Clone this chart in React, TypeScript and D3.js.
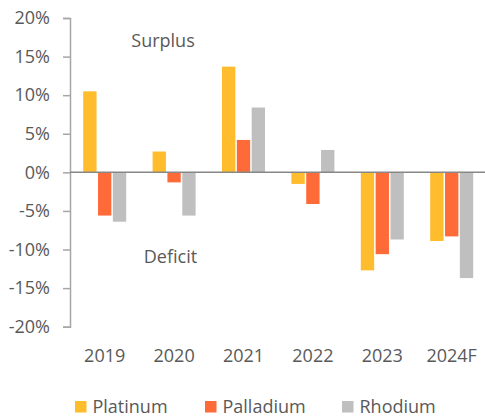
import React, { useEffect, useRef } from "react";
import * as d3 from "d3";

// chart data
const years = ["2019", "2020", "2021", "2022", "2023", "2024F"];
const platinum = [10.5, 2.7, 13.7, -1.5, -12.7, -8.9];
const palladium = [-5.6, -1.3, 4.2, -4.1, -10.6, -8.3];
const rhodium = [-6.4, -5.6, 8.4, 2.9, -8.7, -13.7];
const seriesNames = ["Platinum", "Palladium", "Rhodium"];
const seriesColors = ["#FFBC2D", "#FF6A39", "#BFBFBF"];
const yTicks = [20, 15, 10, 5, 0, -5, -10, -15, -20];

const App = () => {
  const ref = useRef<SVGSVGElement>(null);

  useEffect(() => {
    const svg = d3.select(ref.current);
    svg.selectAll("*").remove();

    const font = "'Open Sans', 'Noto Sans', sans-serif";
    const fontSize = "18px";
    const textColor = "#595959";
    const values = [platinum, palladium, rhodium];

    // scales
    const x = d3.scaleBand().domain(years).range([70, 486.4]);
    const y = d3.scaleLinear().domain([-20, 20]).range([326.7, 18]);
    const groupWidth = 43;
    const xSub = d3
      .scaleBand()
      .domain(seriesNames)
      .range([0, groupWidth])
      .paddingInner(0.1);

    // y axis
    const yAxis = svg
      .append("g")
      .attr("transform", "translate(70,0)")
      .call(
        d3
          .axisLeft(y)
          .tickValues(yTicks)
          .tickSize(7)
          .tickPadding(13)
          .tickFormat((d) => `${d}%`)
      );
    yAxis.select(".domain").attr("stroke", "#A6A6A6").attr("stroke-width", 1.5);
    yAxis.selectAll(".tick line").attr("stroke", "#A6A6A6").attr("stroke-width", 1.5);
    yAxis
      .selectAll(".tick text")
      .attr("fill", textColor)
      .style("font-family", font)
      .style("font-size", fontSize);

    // bars
    seriesNames.forEach((name, si) => {
      svg
        .append("g")
        .selectAll("rect")
        .data(values[si])
        .enter()
        .append("rect")
        .attr(
          "x",
          (d, i) =>
            (x(years[i]) as number) +
            (x.bandwidth() - groupWidth) / 2 +
            (xSub(name) as number)
        )
        .attr("y", (d) => y(Math.max(0, d)))
        .attr("width", xSub.bandwidth())
        .attr("height", (d) => Math.abs(y(d) - y(0)))
        .attr("fill", seriesColors[si]);
    });

    // zero line
    svg
      .append("line")
      .attr("x1", 70)
      .attr("x2", 485)
      .attr("y1", y(0))
      .attr("y2", y(0))
      .attr("stroke", "#878787")
      .attr("stroke-width", 1.5);

    // year labels
    svg
      .append("g")
      .selectAll("text")
      .data(years)
      .enter()
      .append("text")
      .attr("x", (d) => (x(d) as number) + x.bandwidth() / 2)
      .attr("y", 362)
      .attr("text-anchor", "middle")
      .attr("fill", textColor)
      .style("font-family", font)
      .style("font-size", fontSize)
      .text((d) => d);

    // annotations
    const notes = [
      { label: "Surplus", x: 163, y: 47 },
      { label: "Deficit", x: 170.5, y: 263 },
    ];
    svg
      .append("g")
      .selectAll("text")
      .data(notes)
      .enter()
      .append("text")
      .attr("x", (d) => d.x)
      .attr("y", (d) => d.y)
      .attr("text-anchor", "middle")
      .attr("fill", textColor)
      .style("font-family", font)
      .style("font-size", fontSize)
      .text((d) => d.label);

    // legend
    const legendX = [75, 205, 342];
    const legend = svg
      .append("g")
      .selectAll("g")
      .data(seriesNames)
      .enter()
      .append("g")
      .attr("transform", (d, i) => `translate(${legendX[i]},401)`);
    legend
      .append("rect")
      .attr("width", 11.5)
      .attr("height", 11.5)
      .attr("fill", (d, i) => seriesColors[i]);
    legend
      .append("text")
      .attr("x", 17.5)
      .attr("y", 11.5)
      .attr("fill", textColor)
      .style("font-family", font)
      .style("font-size", fontSize)
      .text((d) => d);
  }, []);

  return (
    <svg
      ref={ref}
      width={485}
      height={416}
      style={{ position: "absolute", left: 0, top: 0, background: "#fff" }}
    />
  );
};

export default App;
